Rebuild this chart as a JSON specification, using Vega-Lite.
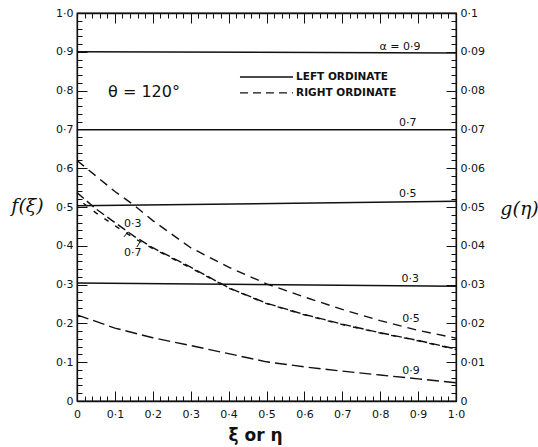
{
  "$schema": "https://vega.github.io/schema/vega-lite/v6.json",
  "width": 379,
  "height": 388,
  "autosize": {"type": "none"},
  "padding": {"left": 77, "top": 13, "right": 82, "bottom": 46},
  "background": "white",
  "config": {
    "font": "DejaVu Sans",
    "view": {"stroke": "#111", "strokeWidth": 1.3},
    "axis": {"domainColor": "#111", "domainWidth": 1.3, "tickColor": "#111", "tickWidth": 1, "labelColor": "#111", "labelFont": "DejaVu Sans", "labelFontSize": 11, "grid": false, "titleColor": "#111", "labelFlush": false, "labelOverlap": false}
  },
  "datasets": {
    "fdata": [
      {"alpha": "0.9", "xi": 0, "f": 0.9}, {"alpha": "0.9", "xi": 1, "f": 0.897},
      {"alpha": "0.7", "xi": 0, "f": 0.699}, {"alpha": "0.7", "xi": 1, "f": 0.699},
      {"alpha": "0.5", "xi": 0, "f": 0.503}, {"alpha": "0.5", "xi": 1, "f": 0.515},
      {"alpha": "0.3", "xi": 0, "f": 0.304}, {"alpha": "0.3", "xi": 1, "f": 0.296}
    ],
    "gdata": [
      {"alpha": "0.5", "eta": 0, "g": 0.062}, {"alpha": "0.5", "eta": 0.05, "g": 0.058}, {"alpha": "0.5", "eta": 0.1, "g": 0.054}, {"alpha": "0.5", "eta": 0.15, "g": 0.0505}, {"alpha": "0.5", "eta": 0.2, "g": 0.0465}, {"alpha": "0.5", "eta": 0.3, "g": 0.0395}, {"alpha": "0.5", "eta": 0.4, "g": 0.0345}, {"alpha": "0.5", "eta": 0.5, "g": 0.0302}, {"alpha": "0.5", "eta": 0.6, "g": 0.0268}, {"alpha": "0.5", "eta": 0.7, "g": 0.0236}, {"alpha": "0.5", "eta": 0.8, "g": 0.0207}, {"alpha": "0.5", "eta": 0.9, "g": 0.0182}, {"alpha": "0.5", "eta": 1.0, "g": 0.0162},
      {"alpha": "0.3", "eta": 0, "g": 0.0537}, {"alpha": "0.3", "eta": 0.05, "g": 0.0495}, {"alpha": "0.3", "eta": 0.1, "g": 0.046}, {"alpha": "0.3", "eta": 0.15, "g": 0.0425}, {"alpha": "0.3", "eta": 0.2, "g": 0.0395}, {"alpha": "0.3", "eta": 0.3, "g": 0.0345}, {"alpha": "0.3", "eta": 0.4, "g": 0.0292}, {"alpha": "0.3", "eta": 0.5, "g": 0.0252}, {"alpha": "0.3", "eta": 0.6, "g": 0.0223}, {"alpha": "0.3", "eta": 0.7, "g": 0.0198}, {"alpha": "0.3", "eta": 0.8, "g": 0.0176}, {"alpha": "0.3", "eta": 0.9, "g": 0.0156}, {"alpha": "0.3", "eta": 1.0, "g": 0.0134},
      {"alpha": "0.7", "eta": 0, "g": 0.0522}, {"alpha": "0.7", "eta": 0.05, "g": 0.0485}, {"alpha": "0.7", "eta": 0.1, "g": 0.0452}, {"alpha": "0.7", "eta": 0.15, "g": 0.042}, {"alpha": "0.7", "eta": 0.2, "g": 0.0393}, {"alpha": "0.7", "eta": 0.3, "g": 0.0343}, {"alpha": "0.7", "eta": 0.4, "g": 0.0291}, {"alpha": "0.7", "eta": 0.5, "g": 0.0251}, {"alpha": "0.7", "eta": 0.6, "g": 0.0222}, {"alpha": "0.7", "eta": 0.7, "g": 0.0197}, {"alpha": "0.7", "eta": 0.8, "g": 0.0175}, {"alpha": "0.7", "eta": 0.9, "g": 0.0155}, {"alpha": "0.7", "eta": 1.0, "g": 0.0133},
      {"alpha": "0.9", "eta": 0, "g": 0.0222}, {"alpha": "0.9", "eta": 0.1, "g": 0.0188}, {"alpha": "0.9", "eta": 0.2, "g": 0.0163}, {"alpha": "0.9", "eta": 0.3, "g": 0.0143}, {"alpha": "0.9", "eta": 0.4, "g": 0.0122}, {"alpha": "0.9", "eta": 0.5, "g": 0.0101}, {"alpha": "0.9", "eta": 0.6, "g": 0.0088}, {"alpha": "0.9", "eta": 0.7, "g": 0.0077}, {"alpha": "0.9", "eta": 0.8, "g": 0.0067}, {"alpha": "0.9", "eta": 0.9, "g": 0.0057}, {"alpha": "0.9", "eta": 1.0, "g": 0.0047}
    ],
    "labels": [
      {"t": "α = 0·9", "x": 0.852, "y": 0.912},
      {"t": "0·7", "x": 0.873, "y": 0.716},
      {"t": "0·5", "x": 0.873, "y": 0.533},
      {"t": "0·3", "x": 0.879, "y": 0.314},
      {"t": "0·5", "x": 0.881, "y": 0.211},
      {"t": "0·9", "x": 0.881, "y": 0.077},
      {"t": "0·3", "x": 0.147, "y": 0.456},
      {"t": "0·7", "x": 0.147, "y": 0.381}
    ],
    "theta": [{"t": "θ = 120°", "x": 0.082, "y": 0.796}],
    "legendtext": [
      {"t": "LEFT ORDINATE", "x": 0.578, "y": 0.835},
      {"t": "RIGHT ORDINATE", "x": 0.578, "y": 0.794}
    ],
    "legendlines": [
      {"kind": "LEFT ORDINATE", "x": 0.43, "x2": 0.57, "y": 0.835},
      {"kind": "RIGHT ORDINATE", "x": 0.43, "x2": 0.57, "y": 0.794}
    ],
    "leaders": [
      {"x": 0.135, "y": 0.436, "x2": 0.124, "y2": 0.423},
      {"x": 0.158, "y": 0.397, "x2": 0.166, "y2": 0.41}
    ]
  },
  "layer": [
    {
      "data": {"name": "fdata"},
      "mark": {"type": "line", "color": "#111", "strokeWidth": 1.5},
      "encoding": {
        "x": {"field": "xi", "type": "quantitative", "scale": {"domain": [0, 1], "nice": false},
          "axis": {"orient": "bottom", "values": [0, 0.1, 0.2, 0.3, 0.4, 0.5, 0.6, 0.7, 0.8, 0.9, 1], "tickSize": -10, "labelPadding": 17,
            "labelExpr": "datum.value == 0 ? '0' : replace(format(datum.value, '.1f'), '.', '·')",
            "title": "ξ or η", "titleFont": "DejaVu Sans", "titleFontSize": 17, "titleFontWeight": "bold", "titleX": 178, "titleY": 34, "titleAlign": "center", "titleBaseline": "middle"}},
        "y": {"field": "f", "type": "quantitative", "scale": {"domain": [0, 1], "nice": false},
          "axis": {"orient": "left", "values": [0, 0.1, 0.2, 0.3, 0.4, 0.5, 0.6, 0.7, 0.8, 0.9, 1], "tickSize": -10, "labelPadding": 14,
            "labelExpr": "datum.value == 0 ? '0' : replace(format(datum.value, '.1f'), '.', '·')",
            "title": "f(ξ)", "titleAngle": 0, "titleX": -50, "titleY": 192, "titleAlign": "center", "titleBaseline": "middle", "titleFont": "DejaVu Serif", "titleFontStyle": "italic", "titleFontWeight": "normal", "titleFontSize": 19}},
        "detail": {"field": "alpha"}
      }
    },
    {
      "data": {"name": "gdata"},
      "mark": {"type": "line", "color": "#111", "strokeWidth": 1.4},
      "encoding": {
        "x": {"field": "eta", "type": "quantitative", "scale": {"domain": [0, 1], "nice": false},
          "axis": {"orient": "top", "values": [0, 0.1, 0.2, 0.3, 0.4, 0.5, 0.6, 0.7, 0.8, 0.9, 1], "tickSize": -10, "labels": false, "title": null}},
        "y": {"field": "g", "type": "quantitative", "scale": {"domain": [0, 0.1], "nice": false},
          "axis": {"orient": "right", "values": [0, 0.01, 0.02, 0.03, 0.04, 0.05, 0.06, 0.07, 0.08, 0.09, 0.1], "tickSize": -10, "labelPadding": 14,
            "labelExpr": "datum.value == 0 ? '0' : datum.value > 0.095 ? '0·1' : replace(format(datum.value, '.2f'), '.', '·')",
            "title": "g(η)", "titleAngle": 0, "titleX": 63, "titleY": 195, "titleAlign": "center", "titleBaseline": "middle", "titleFont": "DejaVu Serif", "titleFontStyle": "italic", "titleFontWeight": "normal", "titleFontSize": 19}},
        "strokeDash": {"field": "alpha", "type": "nominal", "scale": {"domain": ["0.5", "0.3", "0.7", "0.9"], "range": [[9, 6], [9, 4], [0, 8, 5, 0], [12, 5]]}, "legend": null}
      }
    },
    {
      "data": {"name": "fdata"},
      "mark": {"type": "line", "strokeOpacity": 0},
      "encoding": {
        "x": {"field": "xi", "type": "quantitative", "scale": {"domain": [0, 1], "nice": false},
          "axis": {"orient": "bottom", "values": [0,0.02,0.04,0.06,0.08,0.1,0.12,0.14,0.16,0.18,0.2,0.22,0.24,0.26,0.28,0.3,0.32,0.34,0.36,0.38,0.4,0.42,0.44,0.46,0.48,0.5,0.52,0.54,0.56,0.58,0.6,0.62,0.64,0.66,0.68,0.7,0.72,0.74,0.76,0.78,0.8,0.82,0.84,0.86,0.88,0.9,0.92,0.94,0.96,0.98,1], "tickSize": -5, "labels": false, "title": null, "domain": false}},
        "y": {"field": "f", "type": "quantitative", "scale": {"domain": [0, 1], "nice": false},
          "axis": {"orient": "left", "values": [0,0.02,0.04,0.06,0.08,0.1,0.12,0.14,0.16,0.18,0.2,0.22,0.24,0.26,0.28,0.3,0.32,0.34,0.36,0.38,0.4,0.42,0.44,0.46,0.48,0.5,0.52,0.54,0.56,0.58,0.6,0.62,0.64,0.66,0.68,0.7,0.72,0.74,0.76,0.78,0.8,0.82,0.84,0.86,0.88,0.9,0.92,0.94,0.96,0.98,1], "tickSize": -5, "labels": false, "title": null, "domain": false}},
        "detail": {"field": "alpha"}
      }
    },
    {
      "data": {"name": "gdata"},
      "mark": {"type": "line", "strokeOpacity": 0},
      "encoding": {
        "x": {"field": "eta", "type": "quantitative", "scale": {"domain": [0, 1], "nice": false},
          "axis": {"orient": "top", "values": [0,0.02,0.04,0.06,0.08,0.1,0.12,0.14,0.16,0.18,0.2,0.22,0.24,0.26,0.28,0.3,0.32,0.34,0.36,0.38,0.4,0.42,0.44,0.46,0.48,0.5,0.52,0.54,0.56,0.58,0.6,0.62,0.64,0.66,0.68,0.7,0.72,0.74,0.76,0.78,0.8,0.82,0.84,0.86,0.88,0.9,0.92,0.94,0.96,0.98,1], "tickSize": -5, "labels": false, "title": null, "domain": false}},
        "y": {"field": "g", "type": "quantitative", "scale": {"domain": [0, 0.1], "nice": false},
          "axis": {"orient": "right", "values": [0,0.002,0.004,0.006,0.008,0.01,0.012,0.014,0.016,0.018,0.02,0.022,0.024,0.026,0.028,0.03,0.032,0.034,0.036,0.038,0.04,0.042,0.044,0.046,0.048,0.05,0.052,0.054,0.056,0.058,0.06,0.062,0.064,0.066,0.068,0.07,0.072,0.074,0.076,0.078,0.08,0.082,0.084,0.086,0.088,0.09,0.092,0.094,0.096,0.098,0.1], "tickSize": -5, "labels": false, "title": null, "domain": false}},
        "detail": {"field": "alpha"}
      }
    },
    {
      "data": {"name": "labels"},
      "mark": {"type": "text", "font": "DejaVu Sans", "fontSize": 11, "color": "#111"},
      "encoding": {
        "x": {"field": "x", "type": "quantitative", "scale": {"domain": [0, 1], "nice": false}, "axis": null},
        "y": {"field": "y", "type": "quantitative", "scale": {"domain": [0, 1], "nice": false}, "axis": null},
        "text": {"field": "t"}
      }
    },
    {
      "data": {"name": "theta"},
      "mark": {"type": "text", "font": "DejaVu Sans", "fontSize": 16, "align": "left", "color": "#111"},
      "encoding": {
        "x": {"field": "x", "type": "quantitative", "scale": {"domain": [0, 1], "nice": false}, "axis": null},
        "y": {"field": "y", "type": "quantitative", "scale": {"domain": [0, 1], "nice": false}, "axis": null},
        "text": {"field": "t"}
      }
    },
    {
      "data": {"name": "legendtext"},
      "mark": {"type": "text", "font": "DejaVu Sans", "fontSize": 10.5, "fontWeight": "bold", "align": "left", "color": "#111"},
      "encoding": {
        "x": {"field": "x", "type": "quantitative", "scale": {"domain": [0, 1], "nice": false}, "axis": null},
        "y": {"field": "y", "type": "quantitative", "scale": {"domain": [0, 1], "nice": false}, "axis": null},
        "text": {"field": "t"}
      }
    },
    {
      "data": {"name": "legendlines"},
      "mark": {"type": "rule", "color": "#111", "strokeWidth": 1.3},
      "encoding": {
        "x": {"field": "x", "type": "quantitative", "scale": {"domain": [0, 1], "nice": false}, "axis": null},
        "x2": {"field": "x2"},
        "y": {"field": "y", "type": "quantitative", "scale": {"domain": [0, 1], "nice": false}, "axis": null},
        "strokeDash": {"field": "kind", "type": "nominal", "scale": {"domain": ["LEFT ORDINATE", "RIGHT ORDINATE"], "range": [[1, 0], [8, 5]]}, "legend": null}
      }
    },
    {
      "data": {"name": "leaders"},
      "mark": {"type": "rule", "color": "#111", "strokeWidth": 1},
      "encoding": {
        "x": {"field": "x", "type": "quantitative", "scale": {"domain": [0, 1], "nice": false}, "axis": null},
        "x2": {"field": "x2"},
        "y": {"field": "y", "type": "quantitative", "scale": {"domain": [0, 1], "nice": false}, "axis": null},
        "y2": {"field": "y2"}
      }
    }
  ],
  "resolve": {
    "scale": {"y": "independent", "strokeDash": "independent"},
    "axis": {"x": "independent", "y": "independent"}
  }
}
